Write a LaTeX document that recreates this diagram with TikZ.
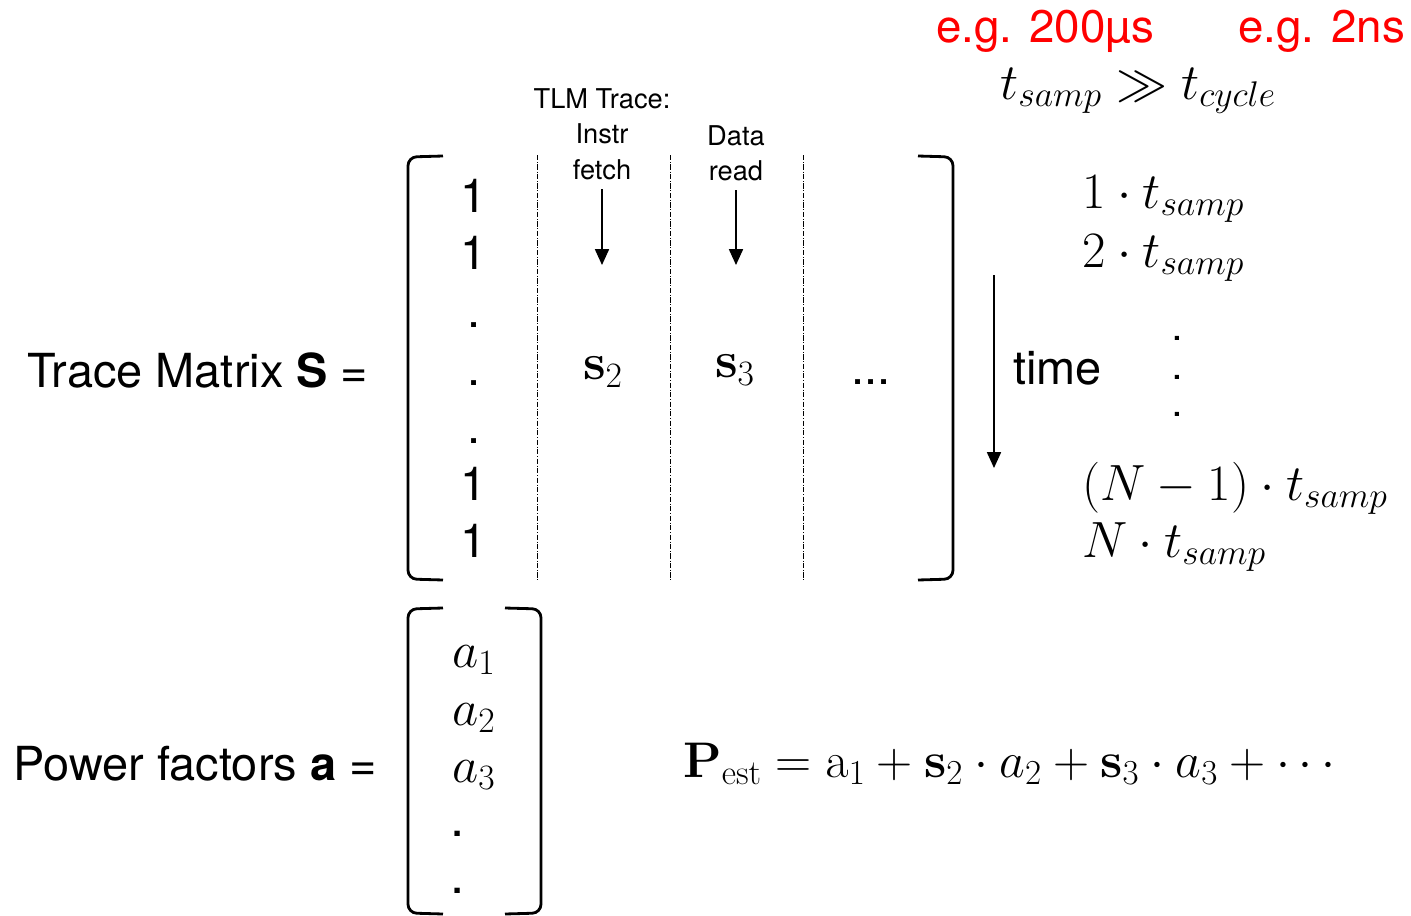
\RequirePackage{fix-cm}
\documentclass[tikz,border=0pt]{standalone}
\usepackage[no-math]{fontspec}
\setmainfont{TeX Gyre Heros}
\usetikzlibrary{arrows.meta}

\begin{document}
\begin{tikzpicture}[
    x=0.02cm, y=-0.02cm,
    lbl/.style={font=\fontsize{26.7}{30}\selectfont, inner sep=0pt},
    small/.style={font=\fontsize{15.5}{18}\selectfont, inner sep=0pt},
    note/.style={font=\fontsize{26}{30}\selectfont, text=red, inner sep=0pt},
    mth/.style={font=\fontsize{29}{32}\selectfont, inner sep=0pt},
    dotmark/.style={font=\fontsize{16}{18}\bfseries\selectfont, inner sep=0pt},
    bracket/.style={line width=1.6pt, rounded corners=5pt},
    colsep/.style={densely dash dot, line width=0.5pt},
    arr/.style={-{Triangle[length=9pt,width=8pt]}, line width=0.8pt}
]
\useasboundingbox (0,0) rectangle (1411,916);

% Left hand labels
\node[lbl, anchor=base west] (lblS) at (27,387) {Trace Matrix \textbf{S} =};
\node[lbl, anchor=base west] (lblA) at (13,780) {Power factors \textbf{a} =};

% Trace matrix S
\draw[bracket] (443,156) -- (408,157) -- (408,579) -- (443,580);
\draw[bracket] (918,156) -- (953,157) -- (953,579) -- (918,580);
\foreach \x in {537,670,803}
    \draw[colsep] (\x,155) -- (\x,580);

% first column: constant ones
\foreach \y/\t in {196/1, 253/1, 325/., 383/., 441/., 484/1, 541/1}
    \node[lbl] (one-\y) at (474,\y) {\t};

% column headers
\node[small] (tlm) at (602,99) {TLM Trace:};
\node[small] (instr) at (602,134) {Instr};
\node[small] (fetch) at (602,170) {fetch};
\node[small] (data) at (736,136) {Data};
\node[small] (read) at (736,171) {read};

\node[mth] (s2) at (603,372) {$\mathbf{s}_2$};
\node[mth] (s3) at (735,370) {$\mathbf{s}_3$};
\node[lbl, anchor=base] (more) at (871,384) {...};

\coordinate (s2in) at (602,265);
\coordinate (s3in) at (736,265);
\draw[arr, shorten <=5pt] (fetch.south) -- (s2in);
\draw[arr, shorten <=5pt] (read.south) -- (s3in);

% time axis
\coordinate (tstart) at (994,275);
\coordinate (tend) at (994,468);
\draw[arr] (tstart) -- (tend);
\node[lbl, anchor=west] (time) at (1013,368) {time};

\node[mth, anchor=base west] (t1) at (1082,208) {$1\cdot t_{samp}$};
\node[mth, anchor=base west] (t2) at (1082,267) {$2\cdot t_{samp}$};
\foreach \y in {338,377,414}
    \node[dotmark] (tdot-\y) at (1177,\y) {.};
\node[mth, anchor=base west] (tN1) at (1082,500) {$(N-1)\cdot t_{samp}$};
\node[mth, anchor=base west] (tN) at (1082,557) {$N\cdot t_{samp}$};

% sampling vs. cycle time
\node[note, anchor=base west] (eg1) at (936,42) {e.g. 200µs};
\node[note, anchor=base west] (eg2) at (1238,42) {e.g. 2ns};
\node[mth, anchor=base west] (ratio) at (1000,99) {$t_{samp} \gg t_{cycle}$};

% Power factor vector a
\draw[bracket] (443,608) -- (408,609) -- (408,913) -- (443,914);
\draw[bracket] (505,608) -- (541,609) -- (541,913) -- (505,914);
\node[mth, anchor=base] (a1) at (474,667) {$a_1$};
\node[mth, anchor=base] (a2) at (474,725) {$a_2$};
\node[mth, anchor=base] (a3) at (474,782) {$a_3$};
\node[mth] (adot1) at (458,834) {.};
\node[mth] (adot2) at (458,891) {.};

% estimated power
\node[mth, anchor=base west, font=\fontsize{28.5}{32}\selectfont] (pest) at (683,777)
    {$\mathbf{P}_{\mathrm{est}} = \mathrm{a}_1 + \mathbf{s}_2\cdot a_2 + \mathbf{s}_3\cdot a_3 + \cdots$};

\end{tikzpicture}
\end{document}
